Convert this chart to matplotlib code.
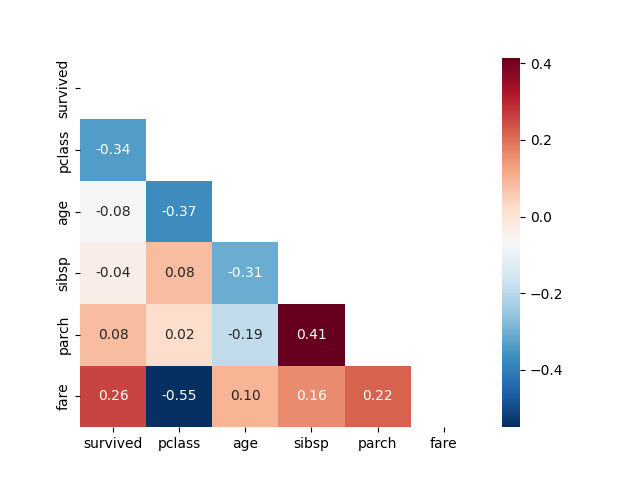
import matplotlib
matplotlib.use('Agg')
import matplotlib.pyplot as plt
import seaborn as sns
import numpy as np
import pandas as pd

labels = ['survived', 'pclass', 'age', 'sibsp', 'parch', 'fare']

# lower-triangle correlations, row by row
row_pclass = [-0.338467]
row_age = [-0.077221, -0.369226]
row_sibsp = [-0.035322, 0.083081, -0.308247]
row_parch = [0.081629, 0.018443, -0.189119, 0.414838]
row_fare = [0.257307, -0.549500, 0.096067, 0.159651, 0.216225]

rows = [[], row_pclass, row_age, row_sibsp, row_parch, row_fare]
n = len(labels)
corr = np.eye(n)
for i, r in enumerate(rows):
    for j, v in enumerate(r):
        corr[i, j] = v
        corr[j, i] = v
corr = pd.DataFrame(corr, index=labels, columns=labels)

mask = np.triu(np.ones_like(corr, dtype=bool))

plt.figure(figsize=(6.4, 4.8))
sns.heatmap(corr, mask=mask, annot=True, fmt='.2f', cmap='RdBu_r')
plt.savefig('out.png')
